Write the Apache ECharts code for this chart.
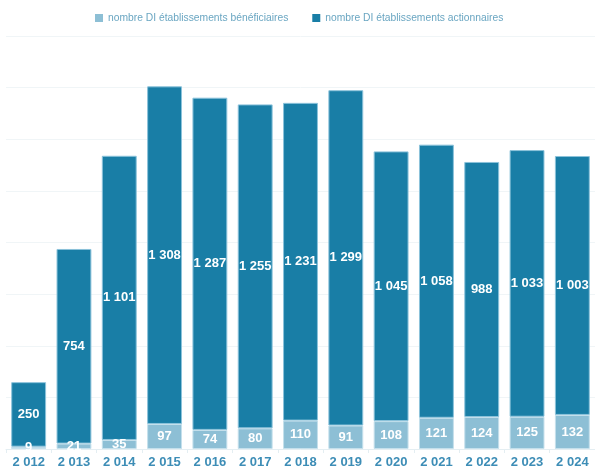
<!DOCTYPE html>
<html><head><meta charset="utf-8">
<script src="https://cdn.jsdelivr.net/npm/echarts@6/dist/echarts.min.js"></script>
<style>html,body{margin:0;padding:0;background:#fff}#c{width:595px;height:470px}</style>
</head><body><div id="c"></div>
<script>
const categories = ['2 012','2 013','2 014','2 015','2 016','2 017','2 018','2 019','2 020','2 021','2 022','2 023','2 024'];
const beneficiaires = [9,21,35,97,74,80,110,91,108,121,124,125,132];
const actionnaires = [250,754,1101,1308,1287,1255,1231,1299,1045,1058,988,1033,1003];
const fmt = v => String(v).replace(/\B(?=(\d{3})+(?!\d))/g, ' ');
const chart = echarts.init(document.getElementById('c'));
const lbl = {show:true, position:'inside', color:'#fff', fontSize:13, fontWeight:'bold', fontFamily:'Liberation Sans, Arial', formatter:p=>fmt(p.value)};
chart.setOption({
  animation:false,
  legend:{top:8, left:90, itemWidth:8, itemHeight:8, itemGap:24, icon:'rect',
    itemStyle:{borderWidth:0},
    textStyle:{color:'#6aa6c2', fontSize:10.3, fontFamily:'Liberation Sans, Arial'}},
  grid:{left:6, top:36, width:592, bottom:21, containLabel:false},
  xAxis:{type:'category', data:categories,
    axisLine:{lineStyle:{color:'#e4eef2'}},
    axisTick:{show:true, lineStyle:{color:'#e4eef2'}, length:4},
    axisLabel:{color:'#3d8db6', fontSize:13, fontWeight:'bold', fontFamily:'Liberation Sans, Arial', margin:7}},
  yAxis:{type:'value', min:0, max:1600, interval:200, axisLabel:{show:false},
    axisLine:{show:false}, axisTick:{show:false},
    splitLine:{lineStyle:{color:'#f0f5f7'}}},
  series:[
    {name:'nombre DI établissements bénéficiaires', type:'bar', stack:'a', data:beneficiaires,
      barCategoryGap:'23%', itemStyle:{color:'#8dbfd5', borderColor:'#c5e0ec', borderWidth:1}, label:lbl},
    {name:'nombre DI établissements actionnaires', type:'bar', stack:'a', data:actionnaires,
      barCategoryGap:'23%', itemStyle:{color:'#197ea6', borderColor:'#8cc3db', borderWidth:1}, label:lbl}
  ]
});
</script></body></html>
